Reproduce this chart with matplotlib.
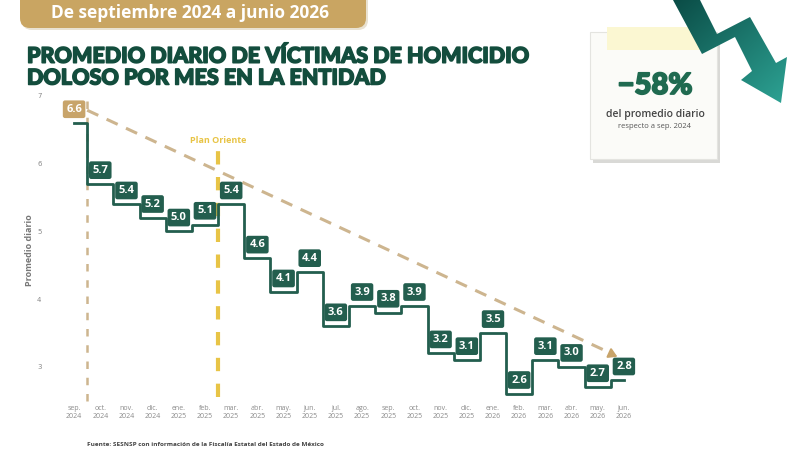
import numpy as np
import matplotlib
matplotlib.use('Agg')
import matplotlib.pyplot as plt
import matplotlib.patheffects as pe
from matplotlib.patches import FancyBboxPatch, Polygon, Rectangle

# data
months = ['sep.\n2024', 'oct.\n2024', 'nov.\n2024', 'dic.\n2024', 'ene.\n2025', 'feb.\n2025',
          'mar.\n2025', 'abr.\n2025', 'may.\n2025', 'jun.\n2025', 'jul.\n2025', 'ago.\n2025',
          'sep.\n2025', 'oct.\n2025', 'nov.\n2025', 'dic.\n2025', 'ene.\n2026', 'feb.\n2026',
          'mar.\n2026', 'abr.\n2026', 'may.\n2026', 'jun.\n2026']
values = [6.6, 5.7, 5.4, 5.2, 5.0, 5.1, 5.4, 4.6, 4.1, 4.4, 3.6, 3.9,
          3.8, 3.9, 3.2, 3.1, 3.5, 2.6, 3.1, 3.0, 2.7, 2.8]
y_ticks = [3, 4, 5, 6, 7]
plan_oriente_pos = 5.5      # between feb. 2025 and mar. 2025
change_text = '−58%'

green = '#235e4e'
dark_green = '#134d3d'
tan = '#c8a46a'
tan_light = '#cdb58f'
yellow = '#e8c446'

W, H = 800, 453
fig = plt.figure(figsize=(W / 100, H / 100), dpi=100)
fig.patch.set_facecolor('white')

# background / decoration layer in pixel coordinates
bg = fig.add_axes([0, 0, 1, 1])
bg.set_xlim(0, W)
bg.set_ylim(H, 0)
bg.axis('off')

# top banner
bg.add_patch(FancyBboxPatch((22, -20), 346, 50, boxstyle='round,pad=0,rounding_size=10',
                            fc='#e9e2d2', ec='none', zorder=1))
bg.add_patch(FancyBboxPatch((20, -22), 346, 50, boxstyle='round,pad=0,rounding_size=10',
                            fc='#c9a562', ec='none', zorder=2))
bg.text(190, 13, 'De septiembre 2024 a junio 2026', color='white', fontsize=12.5,
        fontweight='bold', family='Open Sans', ha='center', va='center', zorder=3)

# title (stroke makes it as heavy as the original)
heavy = [pe.withStroke(linewidth=1.1, foreground=dark_green)]
bg.text(27, 56, 'PROMEDIO DIARIO DE VÍCTIMAS DE HOMICIDIO', color=dark_green, fontsize=15.5,
        fontweight='black', family='Lato', ha='left', va='center', path_effects=heavy)
bg.text(27, 78, 'DOLOSO POR MES EN LA ENTIDAD', color=dark_green, fontsize=15.5,
        fontweight='black', family='Lato', ha='left', va='center', path_effects=heavy)

# note card
bg.add_patch(Rectangle((593, 36), 127, 127, fc='#d9d9d6', ec='none', zorder=1))
bg.add_patch(Rectangle((590, 32), 127, 127, fc='#fbfbf8', ec='#e4e4e0', lw=0.8, zorder=2))
bg.add_patch(Rectangle((607, 27), 93, 23, fc='#fbf7d2', ec='none', zorder=3))
bg.text(655, 86, change_text, color='#1f6a50', fontsize=21, fontweight='black',
        family='Lato', ha='center', va='center', zorder=4,
        path_effects=[pe.withStroke(linewidth=1.3, foreground='#1f6a50')])
bg.text(655, 114, 'del promedio diario', color='#444444', fontsize=7.5, fontweight='semibold',
        family='Open Sans', ha='center', va='center', zorder=4)
bg.text(655, 127, 'respecto a sep. 2024', color='#555555', fontsize=5.5,
        family='Open Sans', ha='center', va='center', zorder=4)

# zig-zag arrow with gradient
arrow_pts = [(673, 0), (702, 54), (735, 37), (752, 71), (741, 80), (781, 103),
             (787, 57), (776, 63), (750, 17), (717, 34), (700, 0)]
poly = Polygon(arrow_pts, closed=True, fc='none', ec='none', zorder=5)
bg.add_patch(poly)
grad = np.linspace(0, 1, 256).reshape(-1, 1) * np.ones((1, 256))
grad = (grad + grad.T) / 2
cmap = matplotlib.colors.LinearSegmentedColormap.from_list('arr', ['#0a4b45', '#2ea596'])
im = bg.imshow(grad, cmap=cmap, extent=(670, 790, 105, 0), zorder=5, aspect='auto')
im.set_clip_path(poly)
bg.set_xlim(0, W)
bg.set_ylim(H, 0)

# footnote
bg.text(87, 445, 'Fuente: SESNSP con información de la Fiscalía Estatal del Estado de México',
        color='#444444', fontsize=4.6, fontweight='bold', family='Open Sans',
        ha='left', va='center')

# main chart
ax = fig.add_axes([61 / W, 1 - 404 / H, 576 / W, (404 - 96) / H])
ax.patch.set_alpha(0)
x = np.arange(len(values))
ax.set_xlim(-0.5, len(values) - 0.5)
ax.set_ylim(2.45, 7.0)

ax.plot(x, values, drawstyle='steps-mid', color=green, lw=2, zorder=4)

# trend arrow
ax.plot([0.5, 20.5], [6.79, 3.2], color=tan_light, lw=2.2, dashes=(4, 3), zorder=3)
ax.annotate('', xy=(20.85, 3.13), xytext=(20.4, 3.21),
            arrowprops=dict(arrowstyle='-|>,head_length=0.5,head_width=0.3',
                            color=tan, lw=1.5), zorder=3)

# vertical reference lines
ax.vlines(0.5, 2.5, 7.0, color=tan_light, lw=1.8, linestyles=(0, (3, 3.5)), zorder=2)
ax.vlines(plan_oriente_pos, 2.55, 6.2, color=yellow, lw=3, linestyles=(0, (3.2, 3)), zorder=2)
ax.text(plan_oriente_pos, 6.34, 'Plan Oriente', color=yellow, fontsize=6.5, fontweight='bold',
        family='Open Sans', ha='center', va='center')

# value labels
for i, v in enumerate(values):
    fc = tan if i == 0 else green
    ax.annotate(f'{v:.1f}', (i, v), xytext=(0, 6), textcoords='offset points',
                ha='center', va='bottom', color='white', fontsize=8, fontweight='bold',
                family='Open Sans', zorder=6,
                bbox=dict(boxstyle='round,pad=0.3,rounding_size=0.2', fc=fc, ec='none'))

ax.set_xticks(x)
ax.set_xticklabels(months, fontsize=5, color='#8a8a8a', family='Open Sans', linespacing=1.1)
ax.set_yticks(y_ticks)
ax.set_yticklabels([str(t) for t in y_ticks], fontsize=5, color='#8a8a8a')
ax.tick_params(axis='x', length=0, pad=1)
ax.tick_params(axis='y', length=0, pad=14)
ax.set_ylabel('Promedio diario', fontsize=6.5, color='#777777', fontweight='bold',
              family='Open Sans', labelpad=2)
for s in ax.spines.values():
    s.set_visible(False)

fig.savefig('out.png', dpi=100, facecolor='white')
